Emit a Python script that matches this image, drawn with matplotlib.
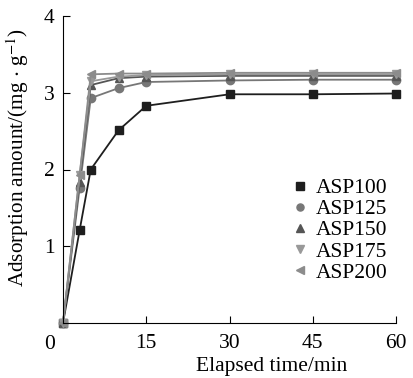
import matplotlib.pyplot as plt

plt.rcParams['font.family'] = 'Liberation Serif'
plt.rcParams['mathtext.fontset'] = 'stix'

t = [0, 3, 5, 10, 15, 30, 45, 60]
asp100 = [0, 1.21, 2.00, 2.51, 2.83, 2.98, 2.98, 2.99]
asp125 = [0, 1.76, 2.93, 3.06, 3.14, 3.16, 3.17, 3.17]
asp150 = [0, 1.84, 3.10, 3.19, 3.21, 3.22, 3.22, 3.22]
asp175 = [0, 1.93, 3.15, 3.21, 3.23, 3.24, 3.24, 3.24]
asp200 = [0, 1.93, 3.24, 3.25, 3.25, 3.26, 3.26, 3.26]
names = ['ASP100', 'ASP125', 'ASP150', 'ASP175', 'ASP200']

series = [asp100, asp125, asp150, asp175, asp200]
markers = ['s', 'o', '^', 'v', '<']
colors = ['#1e1e1e', '#777777', '#555555', '#999999', '#8c8c8c']

fig = plt.figure(figsize=(4.13, 3.78), dpi=100)
ax = fig.add_axes([63/413, 1-323/378, 333/413, 307/378])

for y, m, c, n in zip(series, markers, colors, names):
    ax.plot(t, y, marker=m, color=c, markersize=6, linewidth=1.3, label=n, clip_on=False)

ax.set_xlim(0, 60)
ax.set_ylim(0, 4)
ax.set_xticks([0, 15, 30, 45, 60])
ax.set_xticklabels(['', '15', '30', '45', '60'])
ax.set_yticks([1, 2, 3, 4])
ax.tick_params(direction='in', length=5, labelsize=15.5)
ax.tick_params(axis='y', pad=6)
ax.tick_params(axis='x', pad=8)
ax.spines['top'].set_visible(False)
ax.spines['right'].set_visible(False)
ax.text(-0.04, -0.04, '0', transform=ax.transAxes, fontsize=15.5, ha='center', va='top')
ax.set_xlabel('Elapsed time/min', fontsize=15.5)
ax.xaxis.set_label_coords(0.628, -0.11)
ax.set_ylabel(r'Adsorption amount/(mg $\cdot$ g$^{-1}$)', fontsize=15.3)
ax.yaxis.set_label_coords(-0.095, 0.54)

leg = ax.legend(loc='upper left', bbox_to_anchor=(0.665, 0.5), frameon=False, fontsize=15.5,
                handlelength=0.6, handletextpad=0.45, labelspacing=0.05, markerscale=0.85,
                borderaxespad=0)
for h in leg.get_lines():
    h.set_linestyle('none')

fig.savefig('out.png', dpi=100)
